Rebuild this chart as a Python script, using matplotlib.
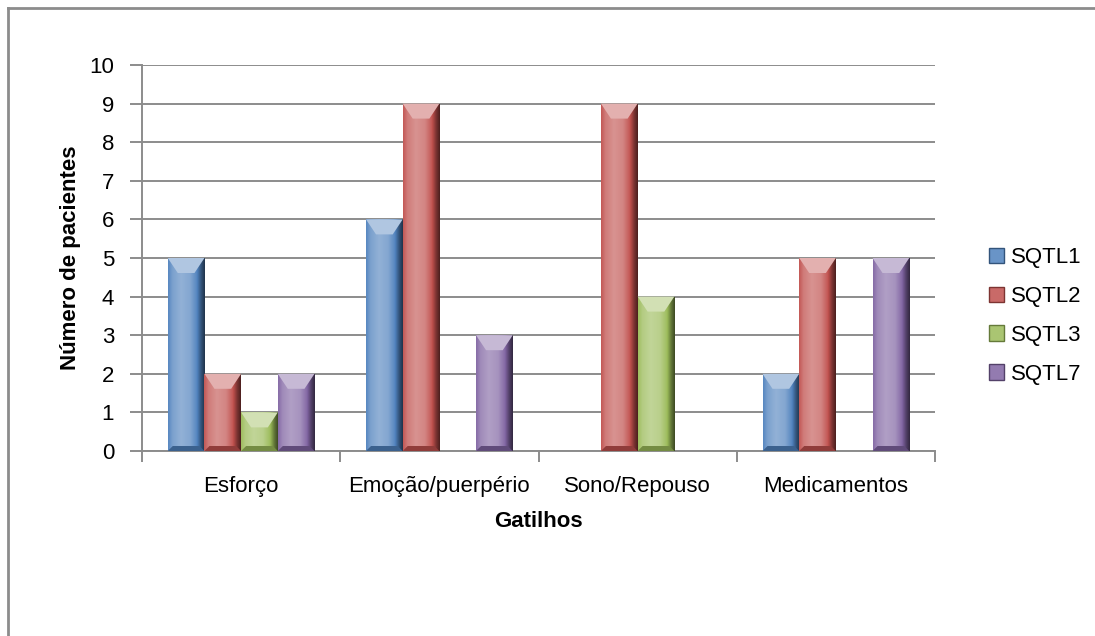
import numpy as np
import matplotlib
matplotlib.use("Agg")
import matplotlib.pyplot as plt
from matplotlib.patches import Polygon, Patch
from matplotlib.lines import Line2D
import matplotlib.colors as mcolors

categories = ["Esforço", "Emoção/puerpério", "Sono/Repouso", "Medicamentos"]
series_names = ["SQTL1", "SQTL2", "SQTL3", "SQTL7"]
sqtl1 = [5, 6, 0, 2]
sqtl2 = [2, 9, 9, 5]
sqtl3 = [1, 0, 4, 0]
sqtl7 = [2, 3, 0, 5]
y_ticks = list(range(0, 11))
x_label = "Gatilhos"
y_label = "Número de pacientes"

colors = ["#4F81BD", "#C0504D", "#9BBB59", "#8064A2"]

plt.rcParams["font.family"] = ["Liberation Sans", "DejaVu Sans"]

W, H = 1095, 636
fig = plt.figure(figsize=(W / 100, H / 100), dpi=100)
ax = fig.add_axes([142 / W, 1 - 451 / H, (935 - 142) / W, (451 - 65) / H])

grid_col = "#8C8C8C"
data = [sqtl1, sqtl2, sqtl3, sqtl7]
x = np.arange(len(categories))
bw = 0.185
n = len(series_names)
FS = 16

def lighten(c, f):
    r = np.array(mcolors.to_rgb(c))
    return tuple(r + (1 - r) * f)

def darken(c, f):
    r = np.array(mcolors.to_rgb(c))
    return tuple(r * (1 - f))

def shade_col(c, s):
    return lighten(c, s) if s >= 0 else darken(c, -s)

ax.set_xlim(-0.5, len(categories) - 0.5)
ax.set_ylim(0, 10)

px_x = 1.0 * len(categories) / (935 - 142)
px_y = 10.0 / (451 - 65)

for i, (vals, c) in enumerate(zip(data, colors)):
    offs = (i - (n - 1) / 2) * bw
    bars = ax.bar(x + offs, vals, width=bw, color=c, edgecolor="none", zorder=3)
    for b in bars:
        h = b.get_height()
        if h <= 0:
            continue
        x0 = b.get_x()
        x1 = x0 + b.get_width()
        y0, y1 = 0, h
        t = np.linspace(0, 1, 80)
        shade = np.interp(t, [0, 0.12, 0.35, 0.6, 0.78, 0.9, 1.0],
                          [0.05, 0.25, 0.38, 0.3, 0.05, -0.35, -0.6])
        img = np.array([shade_col(c, s) for s in shade])[None, :, :]
        im = ax.imshow(img, extent=[x0, x1, y0, y1], aspect="auto", zorder=3.1, interpolation="bilinear")
        im.set_clip_path(b)
        bev_x = 10 * px_x
        bev_y = min(15 * px_y, h * 0.45)
        sidey = 5 * px_y
        side = 5 * px_x
        ax.add_patch(Polygon([(x0, y1), (x1, y1), (x1 - bev_x, y1 - bev_y), (x0 + bev_x, y1 - bev_y)],
                             closed=True, facecolor=lighten(c, 0.55), edgecolor="none", zorder=3.3))
        ax.add_patch(Polygon([(x0, y0), (x1, y0), (x1 - side, y0 + sidey), (x0 + side, y0 + sidey)],
                             closed=True, facecolor=darken(c, 0.25), edgecolor="none", zorder=3.25))

ax.set_yticks(y_ticks)
ax.set_yticklabels([str(v) for v in y_ticks])
ax.yaxis.grid(True, color=grid_col, linewidth=1.4, zorder=0)
ax.set_axisbelow(True)
for s in ["top", "right"]:
    ax.spines[s].set_visible(False)
ax.spines["left"].set_color(grid_col)
ax.spines["left"].set_linewidth(1.4)
ax.spines["bottom"].set_color(grid_col)
ax.spines["bottom"].set_linewidth(1.4)
ax.tick_params(axis="y", direction="out", length=9, width=1.4, color=grid_col, pad=11, labelsize=FS)

ax.set_xticks(np.arange(len(categories) + 1) - 0.5)
ax.set_xticklabels([])
ax.set_xticks(x, minor=True)
ax.set_xticklabels(categories, minor=True)
ax.tick_params(axis="x", which="major", direction="out", length=8, width=1.4, color=grid_col)
ax.tick_params(axis="x", which="minor", length=0, pad=18, labelsize=FS)

ax.set_xlabel(x_label, fontsize=FS, fontweight="bold", labelpad=10)
ax.set_ylabel(y_label, fontsize=FS, fontweight="bold", labelpad=6)

handles = [Patch(facecolor=lighten(c, 0.15), edgecolor=darken(c, 0.35), linewidth=1.0) for c in colors]
leg = fig.legend(handles, series_names, loc="center left", bbox_to_anchor=(980 / W, 1 - 316 / H),
                 frameon=False, fontsize=FS, handlelength=0.68, handleheight=0.68,
                 handletextpad=0.3, labelspacing=0.8, borderaxespad=0)

fig.add_artist(Line2D([8 / W, 1.0], [1 - 8 / H, 1 - 8 / H], transform=fig.transFigure, color="#8C8C8C", linewidth=2))
fig.add_artist(Line2D([8 / W, 8 / W], [0.0, 1 - 8 / H], transform=fig.transFigure, color="#8C8C8C", linewidth=2))

fig.savefig("out.png", dpi=100)
